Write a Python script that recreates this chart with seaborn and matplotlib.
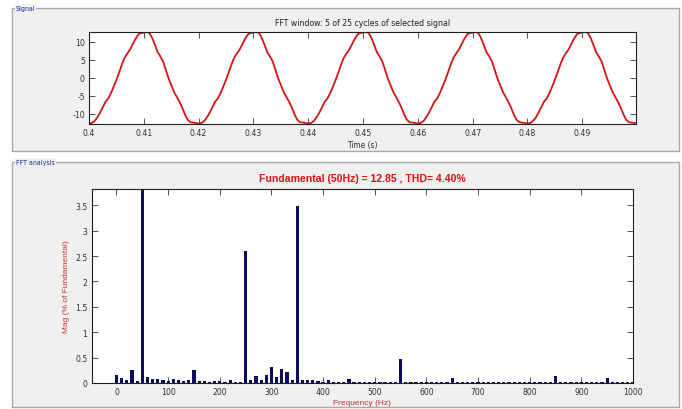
import numpy as np
import pandas as pd
import matplotlib
matplotlib.use("Agg")
import matplotlib.pyplot as plt
from matplotlib.patches import Rectangle
import seaborn as sns

# ---- Signal window: one period of the selected signal (sampled every 0.5 ms) ----
period_offsets_ms = [0.0, 0.5, 1.0, 1.5, 2.0, 2.5, 3.0, 3.5, 4.0, 4.5,
                     5.0, 5.5, 6.0, 6.5, 7.0, 7.5, 8.0, 8.5, 9.0, 9.5,
                     10.0, 10.5, 11.0, 11.5, 12.0, 12.5, 13.0, 13.5, 14.0, 14.5,
                     15.0, 15.5, 16.0, 16.5, 17.0, 17.5, 18.0, 18.5, 19.0, 19.5]
period_values = [-12.8, -12.6, -12.1, -11.1, -9.8, -8.3, -6.7, -5.8, -4.3, -2.5,
                 -0.6, 1.5, 3.7, 5.6, 6.8, 7.9, 9.4, 10.9, 12.1, 12.5,
                 12.6, 12.8, 12.5, 11.2, 9.3, 7.2, 6.0, 4.6, 2.3, -0.1,
                 -2.0, -3.9, -5.3, -6.7, -8.3, -10.2, -11.7, -12.4, -12.5, -12.6]
window_start = 0.4
n_cycles = 5
cycle_period = 0.02

# ---- FFT analysis: harmonic magnitudes, % of fundamental, every 10 Hz ----
spectrum_freq = list(range(0, 1010, 10))
spectrum_mag = [
    0.155, 0.095, 0.06, 0.25, 0.03, 100.0, 0.12, 0.075, 0.07, 0.05,      # 0-90
    0.04, 0.07, 0.05, 0.04, 0.06, 0.25, 0.035, 0.035, 0.02, 0.04,        # 100-190
    0.035, 0.02, 0.05, 0.015, 0.015, 2.60, 0.06, 0.14, 0.055, 0.155,     # 200-290
    0.32, 0.11, 0.285, 0.21, 0.06, 3.48, 0.06, 0.06, 0.05, 0.03,         # 300-390
    0.02, 0.05, 0.02, 0.02, 0.02, 0.08, 0.02, 0.015, 0.015, 0.015,       # 400-490
    0.02, 0.015, 0.015, 0.015, 0.015, 0.47, 0.015, 0.015, 0.015, 0.015,  # 500-590
    0.02, 0.015, 0.015, 0.015, 0.015, 0.10, 0.015, 0.015, 0.015, 0.015,  # 600-690
    0.015, 0.015, 0.015, 0.015, 0.015, 0.02, 0.015, 0.015, 0.015, 0.015, # 700-790
    0.015, 0.015, 0.015, 0.015, 0.015, 0.13, 0.015, 0.015, 0.015, 0.015, # 800-890
    0.015, 0.015, 0.015, 0.015, 0.015, 0.09, 0.015, 0.015, 0.015, 0.015, # 900-990
    0.015,                                                               # 1000
]

signal_xticks = [0.40, 0.41, 0.42, 0.43, 0.44, 0.45, 0.46, 0.47, 0.48, 0.49]
signal_xticklabels = ["0.4", "0.41", "0.42", "0.43", "0.44", "0.45", "0.46", "0.47", "0.48", "0.49"]
signal_yticks = [-10, -5, 0, 5, 10]
fft_xticks = list(range(0, 1001, 100))
fft_yticks = [0, 0.5, 1, 1.5, 2, 2.5, 3, 3.5]
fft_yticklabels = ["0", "0.5", "1", "1.5", "2", "2.5", "3", "3.5"]

fundamental_hz = 50
fundamental_mag = 12.85
thd_pct = 4.40

# assemble the time series over the five cycles of the window
times, values = [], []
for k in range(n_cycles):
    for off, v in zip(period_offsets_ms, period_values):
        times.append(window_start + k * cycle_period + off / 1000.0)
        values.append(v)
times.append(window_start + n_cycles * cycle_period)
values.append(period_values[0])
signal_df = pd.DataFrame({"t": times, "v": values})
spectrum_df = pd.DataFrame({"f": spectrum_freq, "mag": spectrum_mag})

sns.set_theme(style="white")
plt.rcParams["font.family"] = ["Liberation Sans", "DejaVu Sans"]
plt.rcParams["axes.unicode_minus"] = False
narrow = dict(family=["Liberation Sans Narrow", "DejaVu Sans"], stretch="condensed")

W, H = 682, 410
fig = plt.figure(figsize=(W / 100, H / 100), dpi=100, facecolor="white")


def fx(px):
    return px / W


def fy(py):
    return 1 - py / H


panel_bg = "#f0f0f0"
frame_col = "#a8a8a8"
label_col = "#1a2a9a"

# panel frames, kept beneath the axes
for (x0, y0, x1, y1, name) in [(12, 9, 679, 152, "Signal"), (12, 163, 679, 408, "FFT analysis")]:
    fig.patches.append(Rectangle((fx(x0), fy(y1)), fx(x1) - fx(x0), fy(y0) - fy(y1),
                                 transform=fig.transFigure, facecolor=panel_bg,
                                 edgecolor=frame_col, linewidth=1.0, zorder=-5))
    fig.text(fx(x0 + 4), fy(y0), name, fontsize=5.0, color=label_col, **narrow,
             ha="left", va="center", zorder=-4,
             bbox=dict(facecolor=panel_bg, edgecolor="none", pad=0.6))

tick_col = "#303030"

# ---- signal axes ----
ax1 = fig.add_axes([fx(89), fy(125), fx(636) - fx(89), fy(32.5) - fy(125)])
ax1.set_facecolor("white")
sns.lineplot(data=signal_df, x="t", y="v", ax=ax1, color="#d41414", linewidth=1.3)
ax1.set_xlim(0.4, 0.4998)
ax1.set_ylim(-12.9, 12.9)
ax1.set_xticks(signal_xticks)
ax1.set_xticklabels(signal_xticklabels)
ax1.set_yticks(signal_yticks)
ax1.set_xlabel("Time (s)", fontsize=6.0, color=tick_col, labelpad=2, **narrow)
ax1.set_ylabel("")
ax1.set_title("FFT window: 5 of 25 cycles of selected signal", fontsize=6.2,
              color="#202020", pad=5, **narrow)

# ---- spectrum axes ----
ax2 = fig.add_axes([fx(91.7), fy(384), fx(633) - fx(91.7), fy(190) - fy(384)])
ax2.set_facecolor("white")
sns.barplot(data=spectrum_df, x="f", y="mag", ax=ax2, native_scale=True,
            color="#0c0c5e", saturation=1, width=0.62, edgecolor="none")
ax2.set_xlim(-48, 1000)
ax2.set_ylim(0, 3.82)
ax2.set_xticks(fft_xticks)
ax2.set_xticklabels([str(v) for v in fft_xticks])
ax2.set_yticks(fft_yticks)
ax2.set_yticklabels(fft_yticklabels)
ax2.set_xlabel("Frequency (Hz)", fontsize=6.0, color="#c83030", labelpad=2)
ax2.set_ylabel("Mag (% of Fundamental)", fontsize=6.0, color="#c83030", labelpad=4)
ax2.set_title(f"Fundamental ({fundamental_hz}Hz) = {fundamental_mag:.2f} , THD= {thd_pct:.2f}%",
              fontsize=7.6, fontweight="bold", color="#e01010", pad=6)

for ax in (ax1, ax2):
    for s in ax.spines.values():
        s.set_visible(True)
        s.set_color("#202020")
        s.set_linewidth(0.8)
    ax.tick_params(direction="in", length=4, width=0.7, color="#505050",
                   top=True, right=True, bottom=True, left=True,
                   labelsize=6.2, labelcolor=tick_col, pad=3)
    for lab in ax.get_xticklabels() + ax.get_yticklabels():
        lab.set_family(narrow["family"])
        lab.set_stretch("condensed")
    ax.grid(False)

fig.savefig("out.png", dpi=100, facecolor="white")
